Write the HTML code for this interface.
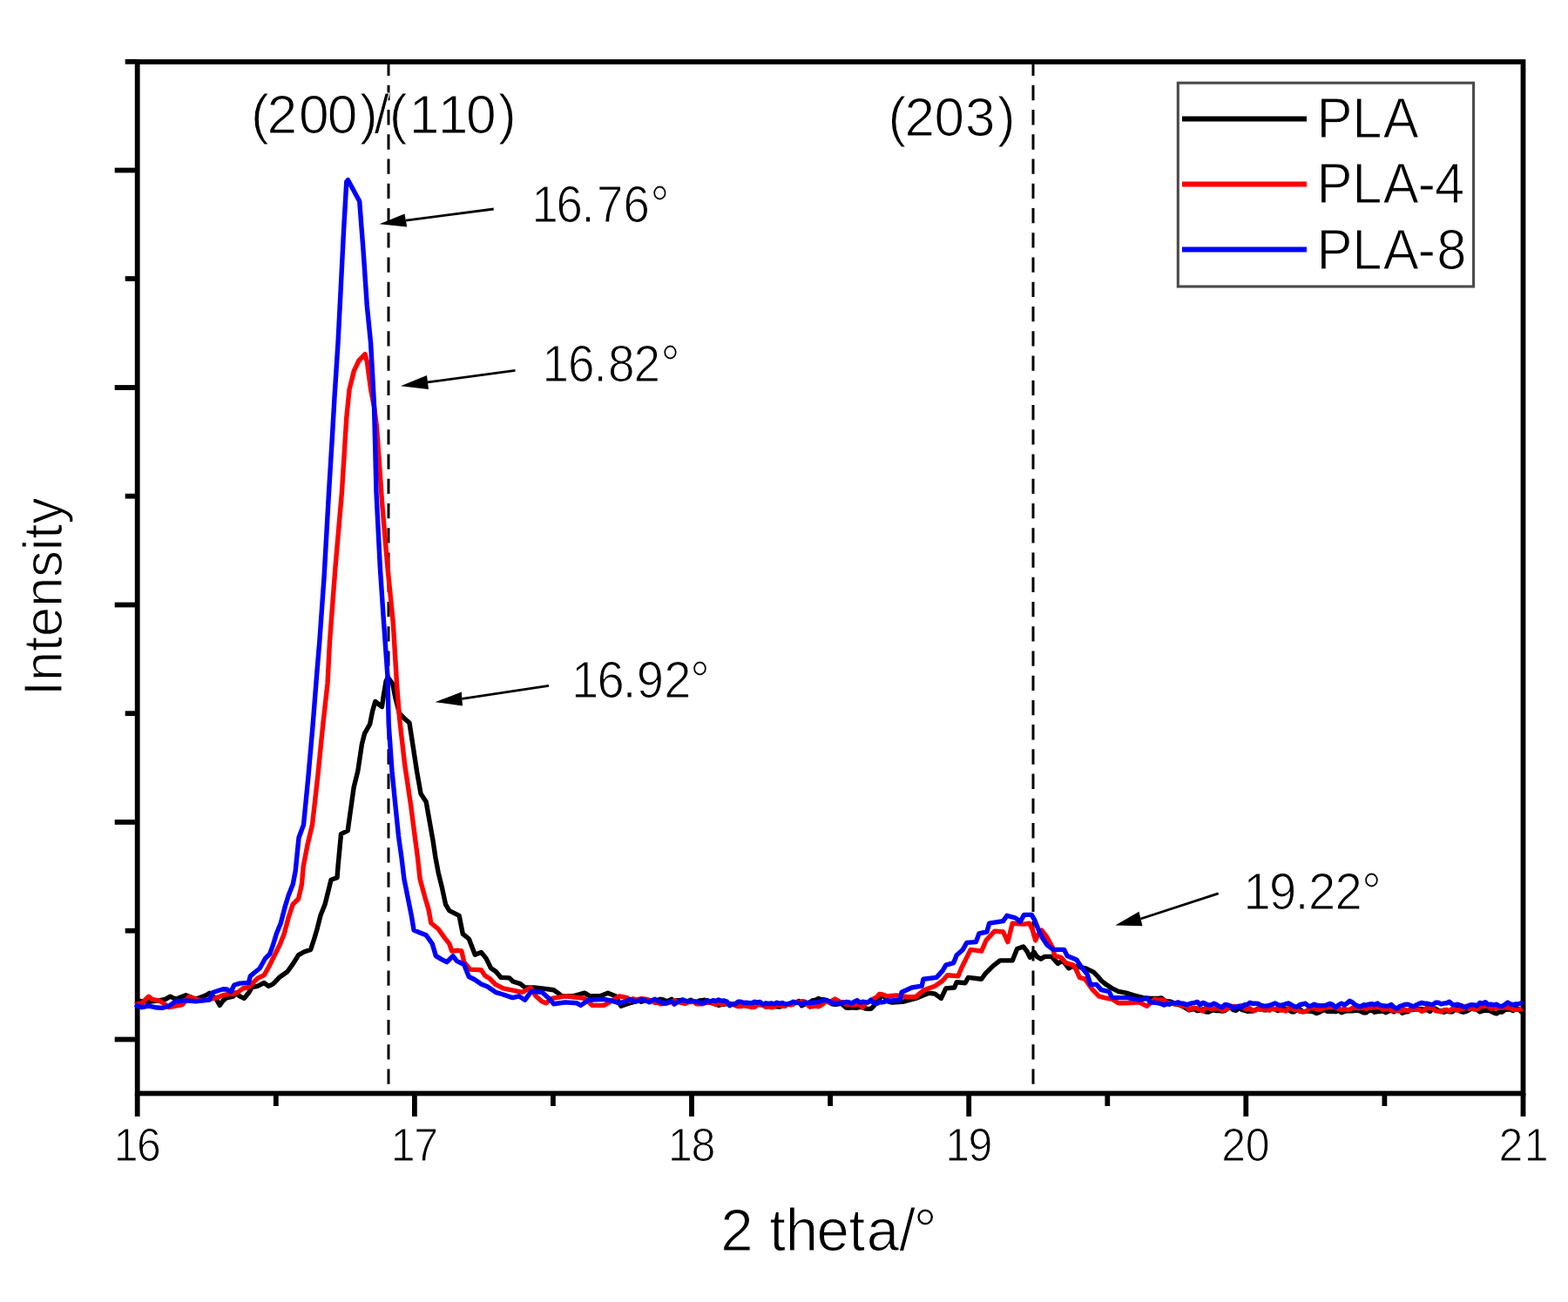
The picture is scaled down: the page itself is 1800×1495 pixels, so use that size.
<!DOCTYPE html>
<html><head><meta charset="utf-8"><title>XRD PLA</title>
<style>
html,body{margin:0;padding:0;background:#fff;}
body{width:1800px;height:1495px;overflow:hidden;}
svg{display:block;}
text{font-family:"Liberation Sans",Arial,sans-serif;fill:#000;stroke:#fff;stroke-width:1.1px;}
</style></head>
<body>
<svg width="1800" height="1495" viewBox="0 0 1800 1495">
<rect width="1800" height="1495" fill="#fff"/>
<rect x="157.7" y="71.0" width="1590.8" height="1184.5" fill="none" stroke="#000" stroke-width="5.8"/>
<line x1="143.7" y1="70.8" x2="157.7" y2="70.8" stroke="#000" stroke-width="5.8"/>
<line x1="131.7" y1="195.5" x2="157.7" y2="195.5" stroke="#000" stroke-width="5.8"/>
<line x1="143.7" y1="320" x2="157.7" y2="320" stroke="#000" stroke-width="5.8"/>
<line x1="131.7" y1="445" x2="157.7" y2="445" stroke="#000" stroke-width="5.8"/>
<line x1="143.7" y1="569.7" x2="157.7" y2="569.7" stroke="#000" stroke-width="5.8"/>
<line x1="131.7" y1="694.5" x2="157.7" y2="694.5" stroke="#000" stroke-width="5.8"/>
<line x1="143.7" y1="819.2" x2="157.7" y2="819.2" stroke="#000" stroke-width="5.8"/>
<line x1="131.7" y1="944" x2="157.7" y2="944" stroke="#000" stroke-width="5.8"/>
<line x1="143.7" y1="1068.7" x2="157.7" y2="1068.7" stroke="#000" stroke-width="5.8"/>
<line x1="131.7" y1="1193.5" x2="157.7" y2="1193.5" stroke="#000" stroke-width="5.8"/>
<line x1="157.7" y1="1255.5" x2="157.7" y2="1282.0" stroke="#000" stroke-width="5.8"/>
<line x1="316.8" y1="1255.5" x2="316.8" y2="1270.0" stroke="#000" stroke-width="5.8"/>
<line x1="475.9" y1="1255.5" x2="475.9" y2="1282.0" stroke="#000" stroke-width="5.8"/>
<line x1="634.9" y1="1255.5" x2="634.9" y2="1270.0" stroke="#000" stroke-width="5.8"/>
<line x1="794.0" y1="1255.5" x2="794.0" y2="1282.0" stroke="#000" stroke-width="5.8"/>
<line x1="953.1" y1="1255.5" x2="953.1" y2="1270.0" stroke="#000" stroke-width="5.8"/>
<line x1="1112.2" y1="1255.5" x2="1112.2" y2="1282.0" stroke="#000" stroke-width="5.8"/>
<line x1="1271.3" y1="1255.5" x2="1271.3" y2="1270.0" stroke="#000" stroke-width="5.8"/>
<line x1="1430.3" y1="1255.5" x2="1430.3" y2="1282.0" stroke="#000" stroke-width="5.8"/>
<line x1="1589.4" y1="1255.5" x2="1589.4" y2="1270.0" stroke="#000" stroke-width="5.8"/>
<line x1="1748.5" y1="1255.5" x2="1748.5" y2="1282.0" stroke="#000" stroke-width="5.8"/>
<line x1="446.0" y1="71.0" x2="446.0" y2="1255.5" stroke="#000" stroke-width="3" stroke-dasharray="17.3 10.941" stroke-dashoffset="1.39"/>
<line x1="1186.0" y1="71.0" x2="1186.0" y2="1255.5" stroke="#000" stroke-width="3" stroke-dasharray="17.3 10.941" stroke-dashoffset="1.39"/>
<polyline points="155.0,1148.9 170.6,1150.4 182.2,1148.9 190.0,1147.3 195.4,1144.2 201.7,1147.3 213.3,1142.7 225.0,1147.3 236.6,1142.7 240.5,1140.3 248.3,1147.3 252.2,1154.3 256.1,1148.9 260.0,1145.8 267.8,1144.2 270.2,1140.0 275.2,1143.8 280.3,1146.3 285.4,1140.0 289.2,1133.6 295.6,1132.3 303.2,1128.5 308.3,1132.3 313.4,1129.8 321.0,1122.0 329.9,1115.8 336.2,1106.9 342.6,1096.7 349.0,1093.0 356.6,1090.4 360.4,1079.0 364.2,1066.2 368.0,1051.0 373.1,1038.3 376.9,1023.0 380.0,1010.3 387.0,1007.8 388.0,995.0 391.5,957.7 399.2,953.8 402.3,931.5 406.2,903.8 410.8,885.4 415.4,854.6 418.5,842.3 424.6,831.5 427.7,816.2 430.8,805.4 434.6,808.5 438.5,811.5 440.0,800.8 443.1,782.3 445.4,777.7 450.8,785.4 453.8,800.8 458.5,819.2 464.6,825.4 470.0,830.0 473.8,854.6 478.5,885.4 483.1,911.5 489.2,920.8 493.8,946.9 497.0,965.0 500.0,985.0 503.2,1002.1 507.4,1019.0 511.6,1038.7 515.8,1045.7 527.1,1051.3 531.3,1072.4 538.3,1078.0 545.3,1096.2 552.4,1093.4 558.0,1100.4 563.6,1111.7 568.9,1115.3 575.1,1122.4 584.7,1122.9 588.9,1127.0 597.3,1129.6 602.7,1134.0 613.3,1134.0 622.2,1134.9 635.6,1136.7 641.8,1141.1 644.4,1143.8 657.8,1143.8 671.1,1140.2 677.3,1143.8 688.9,1143.8 697.8,1140.2 706.7,1143.8 712.9,1155.3 720.0,1152.7 723.2,1151.6 726.4,1150.9 729.5,1149.2 732.7,1148.4 735.9,1150.3 739.1,1149.1 742.3,1148.8 745.4,1148.6 748.6,1148.6 751.8,1149.0 755.0,1148.5 758.2,1147.3 761.3,1147.9 764.5,1149.6 767.7,1149.0 770.9,1147.3 774.1,1151.1 777.2,1148.7 780.4,1148.6 783.6,1148.1 786.8,1149.4 790.0,1149.7 793.1,1148.2 796.3,1150.4 799.5,1150.9 802.7,1149.0 805.9,1148.6 809.0,1148.3 812.2,1151.1 815.4,1151.4 818.6,1151.7 821.8,1153.0 824.9,1154.3 828.1,1153.3 831.3,1153.2 834.5,1152.7 837.7,1152.5 840.8,1152.7 844.0,1152.6 847.2,1153.7 850.4,1155.1 853.6,1153.0 856.7,1154.4 859.9,1154.0 863.1,1154.1 866.3,1152.6 869.5,1151.1 872.6,1153.2 875.8,1153.8 879.0,1154.2 882.2,1154.6 885.4,1153.3 888.5,1154.3 891.7,1155.9 894.9,1156.1 898.1,1155.1 901.3,1153.8 904.4,1153.0 907.6,1152.1 910.8,1151.4 914.0,1150.5 917.2,1149.6 920.3,1154.8 923.5,1153.2 926.7,1152.0 929.9,1150.7 933.1,1148.6 936.2,1148.3 939.4,1146.5 942.6,1147.7 945.8,1147.8 949.0,1149.0 952.1,1150.5 955.3,1152.9 958.5,1153.2 961.7,1153.1 964.9,1151.9 968.0,1154.2 971.2,1157.0 974.4,1157.2 977.6,1156.9 980.8,1157.0 983.9,1157.3 987.1,1156.2 990.3,1156.6 993.5,1158.0 996.7,1158.4 999.8,1158.2 1003.0,1155.2 1006.2,1148.9 1009.4,1147.2 1012.6,1142.7 1015.7,1145.0 1018.9,1149.7 1022.1,1150.7 1025.0,1151.0 1037.8,1150.0 1051.1,1146.4 1066.2,1140.2 1073.3,1141.1 1080.4,1146.4 1085.8,1134.9 1095.6,1134.0 1098.2,1127.8 1108.0,1128.7 1111.6,1122.4 1126.7,1124.2 1131.1,1118.0 1140.0,1109.1 1148.0,1102.9 1162.2,1102.9 1167.6,1089.6 1174.7,1086.9 1178.9,1092.2 1182.4,1099.3 1186.9,1093.1 1190.4,1098.4 1194.9,1101.1 1199.3,1098.4 1207.3,1098.4 1214.4,1106.4 1219.8,1102.9 1226.9,1111.8 1232.2,1109.1 1246.4,1111.8 1255.3,1116.2 1260.7,1121.6 1264.2,1126.0 1269.6,1130.4 1276.7,1134.9 1283.8,1138.4 1292.7,1140.2 1301.6,1142.9 1312.2,1145.6 1321.1,1146.4 1330.0,1146.4 1333.2,1146.0 1336.4,1148.5 1339.5,1149.9 1342.7,1149.9 1345.9,1151.1 1349.1,1152.4 1352.3,1153.4 1355.4,1154.3 1358.6,1156.0 1361.8,1157.8 1365.0,1159.9 1368.2,1159.2 1371.3,1158.6 1374.5,1160.6 1377.7,1160.0 1380.9,1158.9 1384.1,1161.7 1387.2,1162.0 1390.4,1160.6 1393.6,1159.9 1396.8,1160.6 1400.0,1160.6 1403.1,1161.0 1406.3,1160.4 1409.5,1157.9 1412.7,1156.6 1415.9,1159.7 1419.0,1160.3 1422.2,1157.4 1425.4,1159.3 1428.6,1160.2 1431.8,1161.2 1434.9,1160.8 1438.1,1161.0 1441.3,1159.6 1444.5,1157.9 1447.7,1158.8 1450.8,1159.8 1454.0,1159.7 1457.2,1158.0 1460.4,1158.6 1463.6,1158.6 1466.7,1160.5 1469.9,1158.9 1473.1,1158.4 1476.3,1158.7 1479.5,1159.8 1482.6,1161.7 1485.8,1161.7 1489.0,1159.3 1492.2,1158.7 1495.4,1161.7 1498.5,1161.4 1501.7,1160.8 1504.9,1161.3 1508.1,1161.8 1511.3,1163.5 1514.4,1162.4 1517.6,1160.7 1520.8,1159.5 1524.0,1161.4 1527.2,1161.1 1530.3,1161.2 1533.5,1161.7 1536.7,1160.0 1539.9,1162.6 1543.1,1161.4 1546.2,1160.9 1549.4,1160.6 1552.6,1160.9 1555.8,1160.4 1559.0,1160.2 1562.1,1161.3 1565.3,1162.8 1568.5,1162.7 1571.7,1160.2 1574.9,1160.0 1578.0,1162.2 1581.2,1161.5 1584.4,1161.3 1587.6,1160.7 1590.8,1162.7 1593.9,1161.1 1597.1,1160.3 1600.3,1161.8 1603.5,1159.2 1606.7,1159.3 1609.8,1163.2 1613.0,1161.9 1616.2,1161.7 1619.4,1158.6 1622.6,1159.4 1625.7,1158.7 1628.9,1158.6 1632.1,1158.5 1635.3,1159.6 1638.5,1159.7 1641.6,1161.3 1644.8,1157.9 1648.0,1158.3 1651.2,1160.3 1654.4,1160.8 1657.5,1162.4 1660.7,1160.7 1663.9,1161.8 1667.1,1161.7 1670.3,1159.4 1673.4,1157.5 1676.6,1161.3 1679.8,1162.2 1683.0,1161.4 1686.2,1159.8 1689.3,1157.7 1692.5,1158.4 1695.7,1159.4 1698.9,1161.8 1702.1,1160.6 1705.2,1160.2 1708.4,1160.0 1711.6,1161.4 1714.8,1162.8 1718.0,1163.8 1721.1,1162.0 1724.3,1162.0 1727.5,1159.7 1730.7,1159.0 1733.9,1159.0 1737.0,1160.6 1740.2,1157.5 1743.4,1158.8 1746.6,1161.9 1747.5,1160.0" fill="none" stroke="#000" stroke-width="5.4" stroke-linejoin="round" stroke-linecap="butt"/>
<polyline points="155.0,1153.5 162.8,1152.0 170.6,1144.2 174.4,1147.3 182.2,1148.9 187.7,1152.0 193.9,1156.7 201.7,1155.1 209.4,1153.5 217.2,1144.2 225.0,1147.3 232.8,1148.9 240.5,1147.3 248.3,1145.8 256.1,1142.7 263.9,1141.1 268.9,1141.2 274.0,1138.7 279.0,1134.9 285.4,1133.6 290.5,1128.5 295.6,1123.4 303.2,1119.6 308.3,1110.7 314.6,1098.0 321.0,1085.3 326.1,1072.6 331.2,1053.5 336.2,1038.3 342.6,1032.0 346.4,1015.4 348.2,995.0 353.0,970.0 358.5,947.0 364.6,893.0 370.8,831.5 376.0,785.0 378.5,736.8 385.0,651.0 392.4,565.6 397.8,479.5 401.0,447.4 406.3,426.0 412.0,414.0 419.1,406.7 421.3,415.0 425.6,447.0 429.8,468.8 432.5,490.0 438.5,576.0 444.9,651.0 451.3,715.4 455.5,785.0 458.5,823.8 464.6,877.7 471.5,923.8 476.5,962.3 479.5,985.0 482.1,1009.2 487.8,1030.2 492.0,1044.3 494.8,1059.7 503.2,1066.7 510.2,1076.6 515.8,1083.6 518.7,1092.0 525.7,1091.3 529.9,1092.0 532.7,1104.7 539.7,1113.1 552.4,1113.8 556.6,1120.1 562.0,1123.5 568.9,1130.4 577.8,1134.9 591.1,1137.6 600.0,1139.3 608.9,1134.0 615.1,1143.8 622.2,1150.0 626.7,1151.8 633.8,1146.4 648.9,1143.8 657.8,1144.7 671.1,1146.4 680.0,1154.4 693.3,1154.4 702.2,1149.1 711.1,1143.8 720.0,1145.6 723.2,1149.2 726.4,1146.8 729.5,1147.6 732.7,1147.5 735.9,1146.8 739.1,1147.0 742.3,1147.4 745.4,1148.4 748.6,1149.7 751.8,1151.3 755.0,1151.3 758.2,1152.7 761.3,1152.5 764.5,1152.0 767.7,1151.4 770.9,1150.2 774.1,1148.8 777.2,1150.2 780.4,1150.8 783.6,1151.8 786.8,1152.4 790.0,1150.7 793.1,1150.6 796.3,1150.1 799.5,1152.7 802.7,1152.6 805.9,1152.9 809.0,1151.8 812.2,1150.8 815.4,1151.3 818.6,1152.2 821.8,1153.5 824.9,1151.6 828.1,1153.1 831.3,1152.4 834.5,1152.6 837.7,1153.0 840.8,1153.1 844.0,1154.4 847.2,1155.6 850.4,1155.6 853.6,1154.5 856.7,1155.3 859.9,1155.7 863.1,1156.6 866.3,1156.3 869.5,1153.8 872.6,1153.8 875.8,1154.3 879.0,1156.3 882.2,1155.8 885.4,1156.7 888.5,1156.3 891.7,1154.1 894.9,1154.5 898.1,1155.3 901.3,1155.4 904.4,1152.9 907.6,1154.0 910.8,1153.2 914.0,1150.7 917.2,1151.4 920.3,1149.8 923.5,1149.9 926.7,1153.3 929.9,1156.2 933.1,1155.7 936.2,1154.6 939.4,1155.9 942.6,1154.4 945.8,1151.9 949.0,1148.6 952.1,1151.5 955.3,1149.0 958.5,1147.0 961.7,1148.9 964.9,1150.9 968.0,1150.8 971.2,1153.3 974.4,1153.1 977.6,1153.5 980.8,1154.1 983.9,1153.1 987.1,1153.8 990.3,1156.7 993.5,1152.3 996.7,1150.7 999.8,1149.5 1003.0,1146.7 1006.2,1145.1 1009.4,1141.4 1012.6,1141.7 1015.7,1142.7 1018.9,1144.6 1020.0,1143.8 1028.9,1142.9 1042.2,1144.7 1051.1,1144.7 1060.9,1136.7 1073.3,1132.2 1082.2,1126.0 1087.6,1119.8 1100.0,1120.7 1103.6,1111.8 1108.9,1101.1 1114.2,1090.4 1126.7,1092.2 1132.0,1079.8 1141.8,1069.1 1151.6,1070.0 1156.9,1081.6 1162.2,1060.2 1175.6,1061.1 1181.6,1060.2 1185.1,1067.3 1188.7,1079.8 1191.3,1073.6 1195.8,1068.2 1202.0,1076.2 1208.2,1087.8 1210.9,1097.6 1218.0,1099.3 1223.3,1105.6 1232.2,1108.2 1235.8,1114.4 1239.3,1122.4 1245.6,1124.2 1254.4,1136.7 1261.6,1143.8 1267.8,1145.6 1276.7,1147.3 1283.8,1151.8 1294.4,1151.8 1307.8,1150.9 1316.7,1155.3 1325.6,1147.3 1330.0,1148.2 1333.2,1147.8 1336.4,1148.7 1339.5,1151.5 1342.7,1151.8 1345.9,1152.1 1349.1,1153.3 1352.3,1151.8 1355.4,1153.9 1358.6,1155.6 1361.8,1155.2 1365.0,1159.5 1368.2,1157.7 1371.3,1157.4 1374.5,1158.0 1377.7,1159.4 1380.9,1161.0 1384.1,1157.2 1387.2,1155.9 1390.4,1158.9 1393.6,1158.2 1396.8,1157.7 1400.0,1157.8 1403.1,1160.3 1406.3,1159.6 1409.5,1157.9 1412.7,1156.1 1415.9,1155.4 1419.0,1156.0 1422.2,1155.4 1425.4,1154.7 1428.6,1157.7 1431.8,1159.0 1434.9,1157.8 1438.1,1160.4 1441.3,1160.1 1444.5,1158.6 1447.7,1159.4 1450.8,1159.4 1454.0,1158.1 1457.2,1160.3 1460.4,1157.6 1463.6,1159.2 1466.7,1158.4 1469.9,1160.0 1473.1,1160.0 1476.3,1161.0 1479.5,1157.3 1482.6,1157.7 1485.8,1159.7 1489.0,1158.7 1492.2,1161.5 1495.4,1161.4 1498.5,1161.5 1501.7,1159.6 1504.9,1156.2 1508.1,1157.8 1511.3,1158.3 1514.4,1159.6 1517.6,1158.6 1520.8,1156.9 1524.0,1157.0 1527.2,1155.7 1530.3,1156.0 1533.5,1157.4 1536.7,1158.3 1539.9,1159.6 1543.1,1158.3 1546.2,1159.6 1549.4,1159.2 1552.6,1157.2 1555.8,1156.8 1559.0,1157.8 1562.1,1157.4 1565.3,1157.2 1568.5,1158.6 1571.7,1156.9 1574.9,1157.4 1578.0,1156.9 1581.2,1155.8 1584.4,1157.1 1587.6,1159.4 1590.8,1158.7 1593.9,1157.8 1597.1,1160.1 1600.3,1160.2 1603.5,1160.3 1606.7,1161.1 1609.8,1160.2 1613.0,1159.4 1616.2,1160.3 1619.4,1159.9 1622.6,1157.4 1625.7,1159.4 1628.9,1159.3 1632.1,1161.3 1635.3,1160.0 1638.5,1156.7 1641.6,1157.7 1644.8,1157.9 1648.0,1160.6 1651.2,1161.2 1654.4,1161.8 1657.5,1159.7 1660.7,1159.4 1663.9,1161.0 1667.1,1158.4 1670.3,1159.0 1673.4,1160.3 1676.6,1158.6 1679.8,1158.6 1683.0,1155.3 1686.2,1158.4 1689.3,1156.7 1692.5,1159.0 1695.7,1158.8 1698.9,1156.3 1702.1,1155.1 1705.2,1154.8 1708.4,1155.7 1711.6,1158.2 1714.8,1157.6 1718.0,1158.1 1721.1,1155.9 1724.3,1157.1 1727.5,1156.9 1730.7,1157.1 1733.9,1157.7 1737.0,1159.3 1740.2,1159.4 1743.4,1159.2 1746.6,1158.6 1747.5,1158.0" fill="none" stroke="#f00" stroke-width="5.4" stroke-linejoin="round" stroke-linecap="butt"/>
<polyline points="155.0,1153.5 162.8,1156.7 170.6,1155.1 178.3,1156.7 186.1,1157.4 193.9,1155.1 201.7,1149.7 213.3,1148.9 225.0,1149.7 232.8,1148.9 240.5,1148.1 244.4,1139.5 256.1,1135.7 260.0,1136.0 265.1,1138.7 268.9,1131.0 275.2,1129.1 285.4,1128.5 287.3,1120.9 291.8,1117.0 298.1,1112.0 304.5,1100.5 309.6,1095.5 313.4,1085.3 317.2,1072.6 322.3,1059.9 327.3,1040.8 331.2,1028.0 336.2,1015.4 339.2,1000.0 343.0,962.0 348.5,947.0 353.8,893.0 359.2,831.5 363.6,775.0 366.8,736.8 372.1,662.0 377.5,565.6 381.5,500.0 383.9,458.0 388.0,394.0 391.3,329.7 394.5,265.6 397.8,208.5 399.5,206.7 411.7,229.2 412.7,231.3 417.0,287.0 421.3,351.0 425.6,394.0 429.5,465.0 432.0,565.6 436.3,651.0 440.6,715.4 444.9,775.4 446.2,831.5 450.0,885.4 453.8,923.8 457.5,960.0 461.0,985.0 463.9,1009.2 468.1,1030.2 472.3,1051.3 475.1,1068.1 482.1,1071.0 489.2,1073.8 496.2,1083.6 500.4,1097.6 507.4,1101.9 513.0,1104.7 520.0,1097.6 524.3,1103.3 532.7,1107.5 538.3,1121.5 545.3,1125.0 552.4,1130.0 559.4,1132.8 568.9,1139.3 577.8,1142.0 588.4,1145.6 595.6,1143.8 602.7,1148.2 609.8,1138.4 622.2,1139.3 631.1,1147.3 635.6,1152.7 648.9,1150.9 662.2,1151.8 666.7,1154.4 675.6,1148.2 693.3,1147.3 702.2,1149.1 711.1,1151.8 720.0,1149.1 723.2,1147.4 726.4,1148.8 729.5,1150.3 732.7,1149.1 735.9,1147.4 739.1,1148.3 742.3,1149.4 745.4,1150.8 748.6,1148.5 751.8,1147.3 755.0,1149.3 758.2,1150.0 761.3,1151.8 764.5,1152.0 767.7,1150.7 770.9,1149.8 774.1,1153.1 777.2,1151.1 780.4,1149.4 783.6,1148.1 786.8,1149.1 790.0,1149.7 793.1,1149.4 796.3,1149.6 799.5,1150.2 802.7,1151.0 805.9,1152.0 809.0,1151.4 812.2,1148.5 815.4,1150.3 818.6,1148.5 821.8,1149.3 824.9,1148.0 828.1,1149.3 831.3,1149.0 834.5,1150.1 837.7,1154.7 840.8,1152.7 844.0,1152.9 847.2,1150.2 850.4,1150.2 853.6,1151.5 856.7,1151.2 859.9,1151.7 863.1,1151.6 866.3,1150.1 869.5,1151.5 872.6,1150.4 875.8,1153.4 879.0,1151.8 882.2,1152.5 885.4,1151.9 888.5,1152.8 891.7,1151.2 894.9,1152.4 898.1,1151.5 901.3,1152.9 904.4,1152.6 907.6,1151.9 910.8,1150.2 914.0,1151.4 917.2,1151.6 920.3,1153.1 923.5,1151.2 926.7,1151.5 929.9,1151.5 933.1,1151.2 936.2,1150.9 939.4,1150.6 942.6,1149.5 945.8,1148.3 949.0,1148.5 952.1,1149.8 955.3,1151.6 958.5,1151.8 961.7,1152.0 964.9,1151.6 968.0,1151.3 971.2,1150.5 974.4,1150.8 977.6,1152.2 980.8,1150.1 983.9,1148.6 987.1,1151.2 990.3,1150.3 993.5,1150.7 996.7,1150.7 999.8,1148.1 1003.0,1151.6 1006.2,1152.5 1009.4,1150.9 1012.6,1150.9 1015.7,1150.2 1018.9,1148.5 1020.0,1149.1 1033.3,1148.2 1035.1,1139.3 1046.7,1134.0 1058.2,1132.2 1060.0,1124.2 1075.1,1122.4 1082.2,1114.4 1085.8,1108.2 1094.7,1105.6 1098.2,1096.7 1105.3,1090.4 1109.8,1082.4 1120.4,1081.6 1124.0,1071.8 1132.9,1070.0 1135.6,1060.2 1151.6,1057.6 1156.0,1051.3 1165.8,1054.0 1171.1,1058.4 1175.6,1050.4 1184.2,1050.4 1187.8,1056.7 1191.3,1065.6 1196.7,1077.1 1202.0,1085.1 1209.1,1090.4 1221.6,1090.4 1225.1,1097.6 1235.8,1102.0 1241.1,1110.0 1248.2,1118.9 1251.8,1130.4 1258.9,1130.4 1264.2,1136.7 1273.1,1138.4 1276.7,1145.6 1294.4,1145.6 1307.8,1148.2 1316.7,1146.4 1321.1,1150.9 1330.0,1151.8 1333.2,1152.7 1336.4,1154.1 1339.5,1152.7 1342.7,1153.3 1345.9,1151.3 1349.1,1152.0 1352.3,1150.9 1355.4,1152.0 1358.6,1152.3 1361.8,1153.6 1365.0,1152.9 1368.2,1151.9 1371.3,1151.5 1374.5,1150.4 1377.7,1154.0 1380.9,1151.4 1384.1,1152.6 1387.2,1154.1 1390.4,1153.8 1393.6,1152.1 1396.8,1153.7 1400.0,1155.7 1403.1,1156.6 1406.3,1153.5 1409.5,1154.0 1412.7,1155.1 1415.9,1158.1 1419.0,1156.2 1422.2,1155.5 1425.4,1156.8 1428.6,1153.7 1431.8,1153.4 1434.9,1151.3 1438.1,1152.3 1441.3,1152.2 1444.5,1152.5 1447.7,1154.3 1450.8,1155.2 1454.0,1155.2 1457.2,1154.3 1460.4,1153.4 1463.6,1152.0 1466.7,1153.5 1469.9,1154.5 1473.1,1153.7 1476.3,1152.6 1479.5,1152.0 1482.6,1153.8 1485.8,1155.6 1489.0,1156.0 1492.2,1153.6 1495.4,1153.0 1498.5,1152.2 1501.7,1155.1 1504.9,1155.3 1508.1,1153.2 1511.3,1154.2 1514.4,1154.5 1517.6,1154.6 1520.8,1154.7 1524.0,1153.4 1527.2,1152.4 1530.3,1154.0 1533.5,1156.7 1536.7,1153.8 1539.9,1152.2 1543.1,1153.9 1546.2,1152.1 1549.4,1149.3 1552.6,1151.0 1555.8,1153.8 1559.0,1155.3 1562.1,1155.7 1565.3,1153.8 1568.5,1154.2 1571.7,1153.2 1574.9,1152.6 1578.0,1153.7 1581.2,1152.1 1584.4,1154.2 1587.6,1154.7 1590.8,1155.1 1593.9,1155.1 1597.1,1153.5 1600.3,1156.5 1603.5,1158.1 1606.7,1155.6 1609.8,1154.6 1613.0,1153.4 1616.2,1153.2 1619.4,1154.5 1622.6,1155.9 1625.7,1153.9 1628.9,1152.6 1632.1,1151.4 1635.3,1152.3 1638.5,1152.3 1641.6,1153.1 1644.8,1153.5 1648.0,1151.3 1651.2,1151.2 1654.4,1152.9 1657.5,1152.1 1660.7,1151.8 1663.9,1150.3 1667.1,1153.2 1670.3,1153.9 1673.4,1153.2 1676.6,1154.3 1679.8,1155.8 1683.0,1156.6 1686.2,1154.4 1689.3,1153.7 1692.5,1153.9 1695.7,1155.0 1698.9,1151.4 1702.1,1152.4 1705.2,1150.7 1708.4,1153.5 1711.6,1153.1 1714.8,1154.0 1718.0,1153.1 1721.1,1155.3 1724.3,1155.4 1727.5,1153.5 1730.7,1151.1 1733.9,1152.8 1737.0,1153.7 1740.2,1153.0 1743.4,1152.7 1746.6,1152.0 1747.5,1153.0" fill="none" stroke="#00f" stroke-width="5.4" stroke-linejoin="round" stroke-linecap="butt"/>
<text transform="matrix(0.9740,0,0,1.0700,610.63,254.50)" x="-0.10 28.59 58.44 76.33 107.64 139.50" style="font-size:56px">16.76°</text>
<text transform="matrix(0.9805,0,0,1.0700,622.60,438.00)" x="-0.10 29.94 60.09 76.86 106.94 138.58" style="font-size:56px">16.82°</text>
<text transform="matrix(1.0032,0,0,1.0700,655.98,801.00)" x="-0.10 29.31 58.71 74.66 106.06 135.96" style="font-size:56px">16.92°</text>
<text transform="matrix(1.0032,0,0,1.0700,1427.48,1043.50)" x="-0.10 29.31 59.20 74.17 104.57 135.46" style="font-size:56px">19.22°</text>
<text transform="matrix(1.0051,0,0,1.0182,287.98,152.78)" x="-0.10 18.31 54.63 87.46 124.28 140.70 158.09 180.97 213.80 245.65 282.47" style="font-size:62px">(200)/(110)</text>
<text transform="matrix(1.0000,0,0,1.0182,1019.50,155.78)" x="-0.10 18.90 52.90 88.40 125.40" style="font-size:62px">(203)</text>
<text transform="matrix(1.0021,0,0,1.0277,827.39,1435.50)" x="-0.10 27.84 55.79 74.14 109.88 146.70 167.06 204.38 220.94" style="font-size:67px">2 theta/°</text>
<text transform="matrix(0.9278,0,0,1.0081,157.70,1333.40)" x="-29.14 -0.63" style="font-size:54px">16</text>
<text transform="matrix(0.9278,0,0,1.0081,475.86,1333.40)" x="-29.14 -0.63" style="font-size:54px">17</text>
<text transform="matrix(0.9278,0,0,1.0081,794.02,1333.40)" x="-29.14 -0.63" style="font-size:54px">18</text>
<text transform="matrix(0.9278,0,0,1.0081,1112.18,1333.40)" x="-29.14 -0.63" style="font-size:54px">19</text>
<text transform="matrix(0.9278,0,0,1.0081,1430.34,1333.40)" x="-30.16 -0.63" style="font-size:54px">20</text>
<text transform="matrix(0.9278,0,0,1.0081,1748.50,1333.40)" x="-30.16 1.25" style="font-size:54px">21</text>
<text transform="matrix(0,-0.9871,1.0127,0,71.25,798.92)" style="font-size:62px">Intensity</text>
<line x1="465.9" y1="253.1" x2="566.7" y2="240" stroke="#000" stroke-width="2.8"/><polygon points="435.5,257.3 464.5,245.6 467.2,260.6" fill="#000"/>
<line x1="491.0" y1="438.9" x2="591.5" y2="425.4" stroke="#000" stroke-width="2.8"/><polygon points="460,443.2 490,431 492,446.9" fill="#000"/>
<line x1="530.4" y1="802.4" x2="630" y2="787.3" stroke="#000" stroke-width="2.8"/><polygon points="499.5,806.2 529.8,794.4 531,810.4" fill="#000"/>
<line x1="1309.5" y1="1055.0" x2="1398.7" y2="1025.8" stroke="#000" stroke-width="2.8"/><polygon points="1280.3,1062.4 1307.5,1046.8 1311.5,1063.3" fill="#000"/>
<rect x="1352.3" y="95.2" width="339.3" height="233.8" fill="#fff" stroke="#4a4a4a" stroke-width="3.1"/>
<line x1="1357" y1="136.5" x2="1500" y2="136.5" stroke="#000" stroke-width="6"/>
<line x1="1357" y1="211.5" x2="1500" y2="211.5" stroke="#f00" stroke-width="6"/>
<line x1="1357" y1="286.5" x2="1500" y2="286.5" stroke="#00f" stroke-width="6"/>
<text transform="matrix(1.0000,0,0,1.0600,1511.92,157.60)" x="-0.42 40.28 75.88" style="font-size:61.5px">PLA</text>
<text transform="matrix(1.0000,0,0,1.0600,1512.04,233.10)" x="-0.54 40.16 75.76 115.46 134.96" style="font-size:61.5px">PLA-4</text>
<text transform="matrix(1.0000,0,0,1.0600,1512.00,308.60)" x="-0.50 40.20 75.80 115.50 137.20" style="font-size:61.5px">PLA-8</text>
</svg>
</body></html>
